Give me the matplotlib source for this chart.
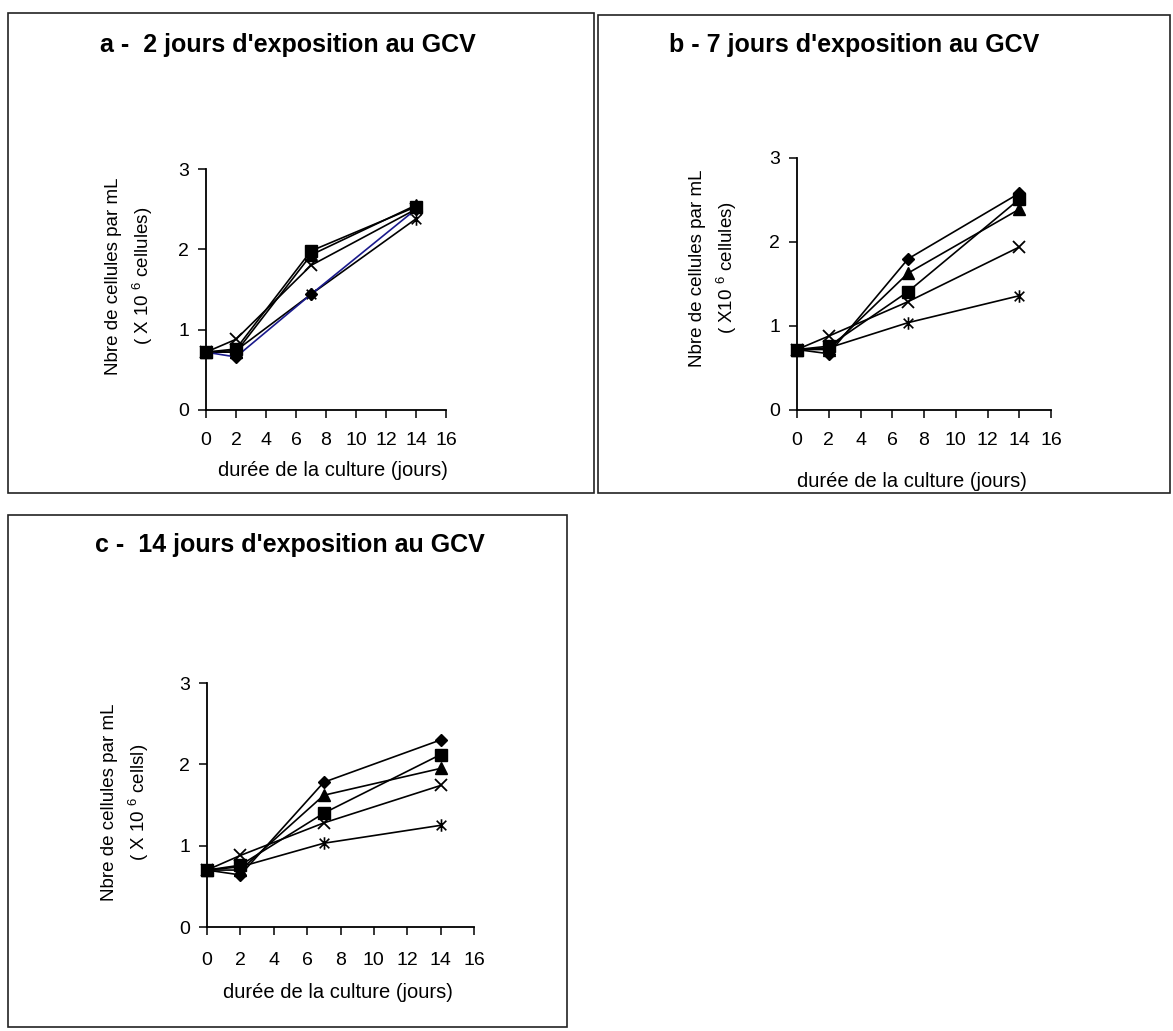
import matplotlib
matplotlib.use("Agg")
import matplotlib.pyplot as plt
from matplotlib.patches import Rectangle
from matplotlib.path import Path

plt.rcParams['font.family'] = ['Liberation Sans', 'DejaVu Sans']
plt.rcParams['mathtext.fontset'] = 'custom'
plt.rcParams['mathtext.rm'] = 'Liberation Sans'

W, H = 1173, 1031

# data: days of culture and cell counts (x 10^6 / mL)
days = [0, 2, 7, 14]

a_diamond = [0.72, 0.66, 1.44, 2.50]
a_square = [0.72, 0.76, 1.98, 2.53]
a_triangle = [0.72, 0.72, 1.93, 2.55]
a_cross = [0.72, 0.88, 1.80, 2.50]
a_star = [0.72, 0.74, 1.44, 2.38]

b_diamond = [0.72, 0.67, 1.80, 2.58]
b_square = [0.72, 0.76, 1.41, 2.51]
b_triangle = [0.72, 0.72, 1.63, 2.39]
b_cross = [0.72, 0.88, 1.29, 1.94]
b_star = [0.72, 0.74, 1.04, 1.36]

c_diamond = [0.70, 0.64, 1.78, 2.30]
c_square = [0.70, 0.76, 1.40, 2.12]
c_triangle = [0.70, 0.70, 1.62, 1.95]
c_cross = [0.70, 0.88, 1.28, 1.74]
c_star = [0.70, 0.74, 1.03, 1.25]

titles = ["a -  2 jours d'exposition au GCV",
          "b - 7 jours d'exposition au GCV",
          "c -  14 jours d'exposition au GCV"]
ylabels = ["Nbre de cellules par mL\n( X 10 $^{6}$ cellules)",
           "Nbre de cellules par mL\n( X10 $^{6}$ cellules)",
           "Nbre de cellules par mL\n( X 10 $^{6}$ cellsl)"]
xlabel = "durée de la culture (jours)"
xticks = list(range(0, 17, 2))
yticks = [0, 1, 2, 3]

# asterisk marker like the excel one
star_marker = Path([(-1, -1), (1, 1), (-1, 1), (1, -1), (0, -1.3), (0, 1.3)],
                   [Path.MOVETO, Path.LINETO, Path.MOVETO, Path.LINETO,
                    Path.MOVETO, Path.LINETO])


def fx(px):
    return px / W


def fy(py):
    return 1 - py / H


fig = plt.figure(figsize=(W / 100, H / 100), dpi=100)

# panel frames (left, top, right, bottom in pixels)
frames = [(8, 13, 594, 493), (598, 15, 1170, 493), (8, 515, 567, 1027)]
for l, t, r, b in frames:
    fig.patches.append(Rectangle((fx(l), fy(b)), fx(r - l), (b - t) / H,
                                 transform=fig.transFigure, fill=False,
                                 edgecolor='#222222', linewidth=1.2))

# axes rectangles (x0, x16, y3, y0 in pixels)
axes_px = [(206, 446, 169, 410), (797, 1051, 158, 410), (207, 474, 683, 927)]
title_pos = [(288, 45), (854, 45), (290, 545)]
ylabel_pos = [(130, 276), (714, 268), (126, 802)]
xlabel_pos = [(333, 470), (912, 481), (338, 993)]
ticklabel_pad = [10, 10, 12]

panels = [
    (a_star, a_cross, a_triangle, a_diamond, a_square),
    (b_star, b_cross, b_triangle, b_diamond, b_square),
    (c_star, c_cross, c_triangle, c_diamond, c_square),
]

for i, (star, cross, tri, dia, sq) in enumerate(panels):
    x0, x1, yt, yb = axes_px[i]
    ax = fig.add_axes([fx(x0), fy(yb), fx(x1 - x0), (yb - yt) / H])
    kw = dict(color='black', linewidth=1.2, clip_on=False)
    ax.plot(days, star, marker=star_marker, markersize=9, markeredgewidth=1.2,
            markerfacecolor='none', markeredgecolor='black', **kw)
    ax.plot(days, cross, marker='x', markersize=9, markeredgewidth=1.3, **kw)
    ax.plot(days, tri, marker='^', markersize=9, **kw)
    dia_color = '#1a1a8c' if i == 0 else 'black'
    ax.plot(days, dia, marker='D', markersize=6.5, color=dia_color,
            markerfacecolor='black', markeredgecolor='black',
            linewidth=1.2, clip_on=False)
    ax.plot(days, sq, marker='s', markersize=9, **kw)

    ax.set_xlim(0, 16)
    ax.set_ylim(0, 3)
    ax.set_xticks(xticks)
    ax.set_yticks(yticks)
    for s in ['top', 'right']:
        ax.spines[s].set_visible(False)
    for s in ['left', 'bottom']:
        ax.spines[s].set_linewidth(1.3)
    ax.tick_params(direction='out', length=6, width=1.1, labelsize=14,
                   pad=6)
    ax.tick_params(axis='x', pad=ticklabel_pad[i])

    tx, ty = title_pos[i]
    fig.text(fx(tx), fy(ty), titles[i], fontsize=18, fontweight='bold',
             ha='center', va='center')
    lx, ly = ylabel_pos[i]
    fig.text(fx(lx), fy(ly), ylabels[i], fontsize=13.5, rotation=90,
             ha='center', va='center', linespacing=1.45, multialignment='center')
    xx, xy = xlabel_pos[i]
    fig.text(fx(xx), fy(xy), xlabel, fontsize=14.5, ha='center', va='center')

fig.savefig('out.png', dpi=100, facecolor='white')
